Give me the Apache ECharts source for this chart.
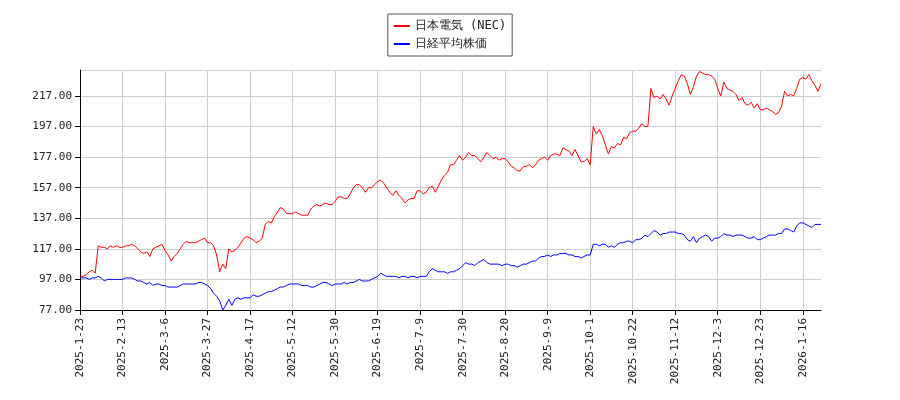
<!DOCTYPE html>
<html><head><meta charset="utf-8">
<script src="https://cdn.jsdelivr.net/npm/echarts@6/dist/echarts.min.js"></script>
<style>html,body{margin:0;padding:0;background:#fff}#c{width:900px;height:400px}</style>
</head><body><div id="c"></div>
<script>
const holidays = ["2025-2-11","2025-2-24","2025-3-20","2025-4-8","2025-4-29","2025-5-5","2025-5-6","2025-7-21","2025-8-11","2025-9-15","2025-9-23","2025-10-13","2025-11-3","2025-11-24","2025-12-31","2026-1-1","2026-1-2","2026-1-12"];
const nec = [
99,99,100,102,103,101,119,118,118,117,119,118,119,118,
118,119,119,120,119,117,115,114,115,112,117,118,119,120,
116,113,109,112,114,117,120,122,121,121,121,122,123,124,
121,121,119,113,102,107,104,117,115,116,118,121,124,125,
124,123,121,122,124,133,135,134,138,141,144,143,140,140,
140,141,140,139,139,139,143,145,146,145,146,147,146,146,
148,151,151,150,150,153,157,159,159,157,154,157,157,159,
161,162,160,157,154,152,155,152,150,147,149,150,150,155,
155,153,154,157,158,154,158,162,165,167,172,172,175,178,
175,177,180,178,178,176,174,177,180,178,176,177,175,176,
176,174,171,170,168,168,171,171,172,170,172,175,176,177,
175,178,179,179,178,183,182,181,178,182,178,174,174,176,
172,197,192,195,191,185,179,184,183,186,185,190,189,193,
194,194,196,199,197,197,222,216,217,215,218,215,211,217,
222,227,231,230,225,218,223,230,233,232,231,231,230,228,
222,217,226,222,221,220,218,214,216,212,211,213,209,212,
208,208,209,208,207,205,206,210,220,217,218,217,222,228,
229,228,231,227,224,220,225];
const nikkei = [
98,98,98,97,98,98,99,98,96,97,97,97,97,97,
97,98,98,98,97,96,96,95,94,95,93,94,94,93,
93,92,92,92,92,93,94,94,94,94,94,95,95,94,
93,91,88,86,83,77,80,84,80,84,85,84,85,85,
85,87,86,86,87,88,89,89,90,91,92,92,93,94,
94,94,94,93,93,93,92,92,93,94,95,95,94,93,
94,94,94,95,94,95,95,96,97,96,96,96,97,98,
99,101,100,99,99,99,99,98,99,99,98,99,99,98,
99,99,99,102,104,103,102,102,102,101,102,102,103,104,
106,108,107,107,106,108,109,110,108,107,107,107,107,106,
107,107,106,106,105,106,107,107,108,109,109,111,112,112,
113,112,113,113,114,114,114,113,113,112,112,111,112,113,
113,120,120,119,120,120,118,119,118,120,121,121,122,122,
121,123,123,124,126,125,127,129,128,126,127,127,128,128,
128,127,127,126,123,122,125,121,124,125,126,125,122,124,
124,125,127,126,126,125,126,126,126,125,124,124,125,123,
123,124,125,126,126,126,127,127,130,130,129,128,132,134,
134,133,132,131,133,133,133];
const dates = [];
{ let d = new Date(2025,0,23);
  while (dates.length < nec.length) {
    const s = d.getFullYear()+"-"+(d.getMonth()+1)+"-"+d.getDate();
    const w = d.getDay();
    if (w!==0 && w!==6 && holidays.indexOf(s)<0) dates.push(s);
    d.setDate(d.getDate()+1);
  } }
const F = "DejaVu Sans Mono";
const chart = echarts.init(document.getElementById('c'));
chart.setOption({
  animation:false,
  legend:{top:14,left:'center',orient:'vertical',borderColor:'#555',borderWidth:1,borderRadius:0,padding:[6,6],itemGap:6,itemWidth:16,itemHeight:2,
    textStyle:{fontFamily:F,fontSize:12,color:'#222'},icon:'rect',
    data:['日本電気 (NEC)','日経平均株価']},
  grid:{left:80,right:79,top:70,bottom:90},
  xAxis:{type:'category',data:dates,boundaryGap:false,
    axisLine:{lineStyle:{color:'#000'}},
    axisTick:{interval:13,lineStyle:{color:'#000'}},
    axisLabel:{interval:13,rotate:90,fontFamily:F,fontSize:11,color:'#222'},
    splitLine:{show:true,interval:13,lineStyle:{color:'#ccc'}}},
  yAxis:{type:'value',min:77,max:234,interval:20,
    axisLine:{show:true,lineStyle:{color:'#000'}},axisTick:{show:true},
    axisLabel:{showMaxLabel:false,fontFamily:F,fontSize:11,color:'#222',formatter:v=>v.toFixed(2)},
    splitLine:{lineStyle:{color:'#ccc'}}},
  series:[
    {name:'日本電気 (NEC)',type:'line',data:nec,showSymbol:false,lineStyle:{color:'#f00',width:1},itemStyle:{color:'#f00'}},
    {name:'日経平均株価',type:'line',data:nikkei,showSymbol:false,lineStyle:{color:'#00f',width:1},itemStyle:{color:'#00f'}}
  ]
});
</script></body></html>
